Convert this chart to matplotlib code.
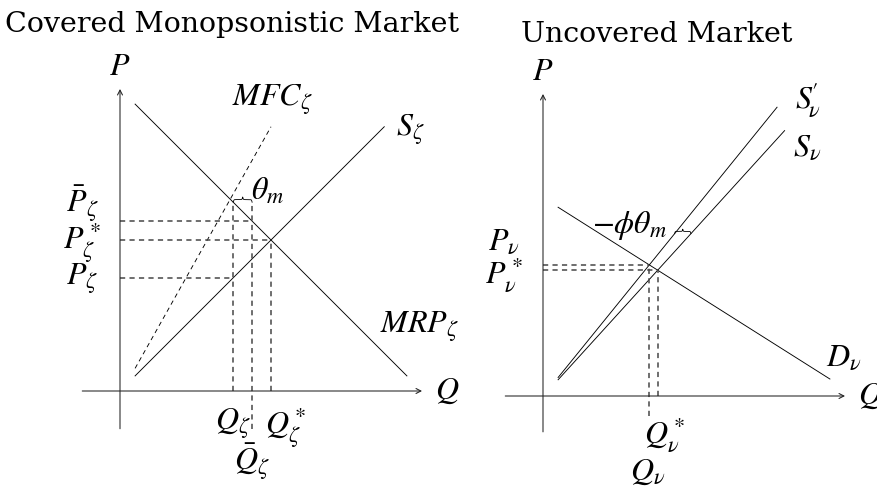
import numpy as np
import matplotlib
matplotlib.use("Agg")
import matplotlib.pyplot as plt

plt.rcParams["mathtext.fontset"] = "stix"
plt.rcParams["font.family"] = ["STIXGeneral", "DejaVu Serif"]

# ---------------- covered (monopsonistic) market ----------------
cov_axis_x = [-1.0, 8.0]          # extent of the Q axis
cov_axis_y = [-1.0, 8.0]          # extent of the P axis
mrp_q = [0.4, 7.6]                # marginal revenue product (downward)
mrp_p = [7.6, 0.4]
sup_q = [0.4, 7.0]                # supply
sup_p = [0.4, 7.0]
mfc_q = [0.4, 4.0]                # marginal factor cost (dashed)
mfc_p = [0.6, 7.0]
q_zeta, p_zeta = 3.0, 3.0         # monopsony quantity / wage
q_star, p_star = 4.0, 4.0         # competitive equilibrium
q_bar, p_bar = 3.5, 4.5           # covered outcome
p_mfc = 5.0                       # MFC at monopsony quantity

# ---------------- uncovered market ----------------
unc_axis_x = [-1.0, 8.0]
unc_axis_y = [-0.95, 8.0]
d_q = [0.4, 7.6]                  # demand
d_p = [5.0, 0.45]
sv_q = [0.4, 6.4]                 # original supply
sv_p = [0.43, 7.03]
sv2_q = [0.4, 6.2]                # shifted supply
sv2_p = [0.49, 7.65]
brace_p_unc = 4.3                 # height of the shift brace
q_nu_floor = -0.53                # lower end of the Q_nu guide

UNIT = 37.75                      # pixels per data unit
W, H = 877, 489


def make_axes(fig, left_px, width_px, ox, oy):
    ax = fig.add_axes([left_px / W, 0, width_px / W, 1])
    ax.set_xlim((left_px - ox) / UNIT, (left_px + width_px - ox) / UNIT)
    ax.set_ylim((oy - H) / UNIT, oy / UNIT)
    ax.axis("off")
    return ax


def q_at(qs, ps, p):
    return qs[0] + (qs[1] - qs[0]) * (p - ps[0]) / (ps[1] - ps[0])


def intersect(q1, p1, q2, p2):
    m1 = (p1[1] - p1[0]) / (q1[1] - q1[0])
    m2 = (p2[1] - p2[0]) / (q2[1] - q2[0])
    b1 = p1[0] - m1 * q1[0]
    b2 = p2[0] - m2 * q2[0]
    q = (b2 - b1) / (m1 - m2)
    return q, m1 * q + b1


def axes_arrows(ax, xs, ys):
    style = dict(arrowstyle="->,head_length=0.35,head_width=0.18",
                 lw=0.75, color="#222222", shrinkA=0, shrinkB=0)
    ax.annotate("", xy=(xs[1], 0), xytext=(xs[0], 0), arrowprops=style)
    ax.annotate("", xy=(0, ys[1]), xytext=(0, ys[0]), arrowprops=style)


def brace(ax, p0, p1, amp, beta=60.0):
    p0, p1 = np.asarray(p0, float), np.asarray(p1, float)
    d = p1 - p0
    L = np.hypot(*d)
    u = d / L
    n = np.array([-u[1], u[0]])
    s = np.linspace(0, 1, 201)
    half = s[:101]
    yh = (1 / (1 + np.exp(-beta * (half - half[0]))) +
          1 / (1 + np.exp(-beta * (half - half[-1]))))
    y = np.concatenate([yh, yh[-2::-1]])
    y = (y - y[0]) / (y.max() - y[0]) * amp
    pts = p0[None, :] + np.outer(s * L, u) + np.outer(y, n)
    ax.plot(pts[:, 0], pts[:, 1], color="black", lw=0.6)


dash = dict(color="#474747", lw=1.1, linestyle=(0, (3.4, 2.8)))
solid = dict(color="black", lw=0.65)
FS = 23
TFS = 20.5

fig = plt.figure(figsize=(W / 100, H / 100), dpi=100)

# ---------- left panel ----------
ax = make_axes(fig, 0, 460, 120, 392)
axes_arrows(ax, cov_axis_x, cov_axis_y)
ax.plot(mrp_q, mrp_p, **solid)
ax.plot(sup_q, sup_p, **solid)
ax.plot(mfc_q, mfc_p, color="black", lw=0.65, linestyle=(0, (5, 4)))

ax.plot([0, q_bar], [p_bar, p_bar], **dash)
ax.plot([0, q_star], [p_star, p_star], **dash)
ax.plot([0, q_zeta], [p_zeta, p_zeta], **dash)
ax.plot([q_zeta, q_zeta], [0, p_mfc], **dash)
ax.plot([q_bar, q_bar], [cov_axis_y[0], p_mfc], **dash)
ax.plot([q_star, q_star], [0, p_star], **dash)
brace(ax, (q_zeta, p_mfc), (q_bar, p_mfc), 0.14)

ax.text(0, 8.6, r"$P$", fontsize=FS, ha="center", va="center")
ax.text(8.66, 0.02, r"$Q$", fontsize=FS, ha="center", va="center")
ax.text(4.03, 7.72, r"$MFC_\zeta$", fontsize=FS, ha="center", va="center")
ax.text(7.68, 6.92, r"$S_\zeta$", fontsize=FS, ha="center", va="center")
ax.text(6.89, 1.72, r"$MRP_\zeta$", fontsize=FS, ha="left", va="center")
ax.text(3.9, 5.3, r"$\theta_m$", fontsize=FS, ha="center", va="center")
ax.text(-1.0, 5.0, r"$\bar{P}_\zeta$", fontsize=FS, ha="center", va="center")
ax.text(-1.0, 3.97, r"$P^*_\zeta$", fontsize=FS, ha="center", va="center")
ax.text(-1.0, 2.98, r"$P_\zeta$", fontsize=FS, ha="center", va="center")
ax.text(q_zeta - 0.02, -0.87, r"$Q_\zeta$", fontsize=FS, ha="center", va="center")
ax.text(q_star + 0.4, -0.95, r"$Q^*_\zeta$", fontsize=FS, ha="center", va="center")
ax.text(q_bar, -1.85, r"$\bar{Q}_\zeta$", fontsize=FS, ha="center", va="center")

# ---------- right panel ----------
bx = make_axes(fig, 460, 417, 543, 397)
axes_arrows(bx, unc_axis_x, unc_axis_y)
bx.plot(d_q, d_p, **solid)
bx.plot(sv_q, sv_p, **solid)
bx.plot(sv2_q, sv2_p, **solid)

qn, pn = intersect(sv2_q, sv2_p, d_q, d_p)
qs, ps = intersect(sv_q, sv_p, d_q, d_p)
bx.plot([0, qn], [pn, pn], **dash)
bx.plot([0, qs], [ps, ps], **dash)
bx.plot([qn, qn], [q_nu_floor, pn], **dash)
bx.plot([qs, qs], [0, ps], **dash)
brace(bx, (q_at(sv2_q, sv2_p, brace_p_unc), brace_p_unc),
      (q_at(sv_q, sv_p, brace_p_unc), brace_p_unc), 0.12)

bx.text(0, 8.6, r"$P$", fontsize=FS, ha="center", va="center")
bx.text(8.34, 0.02, r"$Q$", fontsize=FS, ha="left", va="center")
bx.text(7.02, 7.87, r"$S^{\!\prime}_{\!\nu}$", fontsize=FS, ha="center", va="center")
bx.text(7.0, 6.6, r"$S_\nu$", fontsize=FS, ha="center", va="center")
bx.text(7.97, 1.03, r"$D_\nu$", fontsize=FS, ha="center", va="center")
bx.text(2.3, 4.53, r"$-\phi\theta_m$", fontsize=FS, ha="center", va="center")
bx.text(-1.03, 4.1, r"$P_\nu$", fontsize=FS, ha="center", va="center")
bx.text(-1.03, 3.24, r"$P^*_\nu$", fontsize=FS, ha="center", va="center")
bx.text(3.23, -1.0, r"$Q^*_\nu$", fontsize=FS, ha="center", va="center")
bx.text(2.78, -2.0, r"$Q_\nu$", fontsize=FS, ha="center", va="center")

fig.text(232 / W, 1 - 24 / H, "Covered Monopsonistic Market",
         fontsize=TFS, family="DejaVu Serif", ha="center", va="center")
fig.text(657 / W, 1 - 34 / H, "Uncovered Market",
         fontsize=TFS, family="DejaVu Serif", ha="center", va="center")

fig.savefig("out.png", dpi=100)
